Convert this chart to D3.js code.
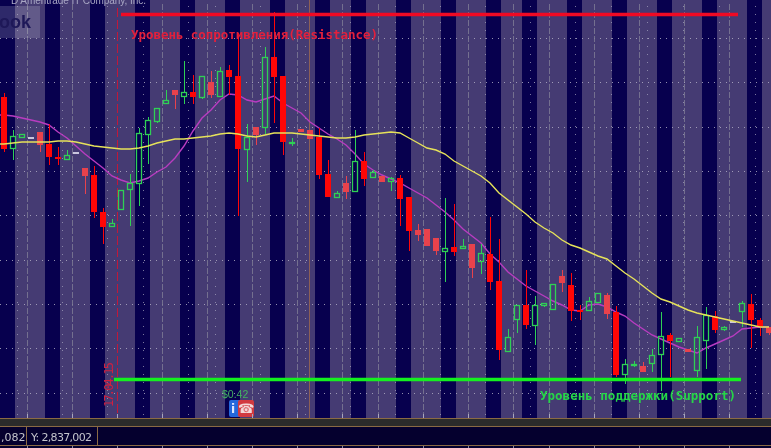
<!DOCTYPE html>
<html lang="en">
<head>
    <meta charset="UTF-8">
    <title>Support and resistance</title>
    <script src="https://d3js.org/d3.v7.min.js"></script>
    <style>
        html, body {margin: 0; padding: 0; background: #05002e; overflow: hidden;}
        svg {display: block; filter: blur(0.3px);}
    </style>
</head>
<body>
<script type="text/javascript">
    var width = 771;
    var height = 448;

    // candles (1 price unit = 1 screen pixel, the original has no visible price axis)
    var opens = [351,300,311,311,316,304,291,289,296,280,273,236,222,239,259,265,314,327,345,358,352,356,351,366,352,378,372,299,321,321,
        391,372,305,319,318,311,274,251,265,257,287,271,272,267,270,251,218,219,210,197,201,200,204,187,194,167,97,129,143,123,
        143,139,172,163,138,138,146,153,136,74,83,82,85,94,113,107,99,78,108,132,119,127,137,144,128,121];
    var highs = [355,318,314,311,316,324,301,298,296,280,282,240,229,258,274,320,331,340,358,358,387,373,372,377,381,383,415,324,321,401,
        436,372,310,319,318,320,288,257,272,318,296,278,272,271,273,251,224,219,210,250,244,209,204,204,231,209,119,143,178,152,
        145,164,178,175,143,151,155,155,142,89,87,86,99,136,115,110,99,122,141,137,122,127,147,154,130,121];
    var lows = [296,288,310,311,296,283,283,289,296,254,230,204,221,239,222,242,284,325,345,339,344,344,349,350,352,353,232,266,303,314,
        325,293,302,316,309,269,251,251,249,256,262,271,266,257,222,197,207,202,193,166,192,200,170,174,158,88,96,115,119,103,
        141,139,156,127,128,138,146,129,71,64,81,76,76,57,71,107,96,71,79,115,117,127,121,100,112,113];
    var closes = [299,312,314,311,303,291,290,293,296,272,236,221,225,258,265,315,328,340,348,353,356,351,372,353,377,371,299,311,313,391,
        371,306,306,316,309,273,251,255,256,287,269,276,266,270,249,217,213,202,197,200,196,202,180,195,166,98,111,143,123,143,
        145,164,165,137,137,147,155,134,73,84,84,76,93,112,107,110,96,111,133,118,121,127,145,128,121,115];
    // the paler red bodies in the original
    var softBars = [4,9,19,23,28,33,34,38,42,46,47,48,52,62,67,71,76,85];

    var maFast = [333,332,330,328,326,323,316,310,302,294,287,280,272,268,265,267,270,276,281,290,302,317,330,338,348,354,353,348,346,349,
        352,345,340,335,326,320,314,309,303,294,284,278,273,269,265,260,255,250,243,236,228,219,212,205,194,186,176,169,162,157,
        152,147,143,138,137,143,144,141,136,132,125,119,113,109,105,101,98,95,100,104,108,112,119,120,121,121];
    var maSlow = [304,305,306,306,306,306,307,307,306,304,302,301,300,299,299,300,302,305,307,309,309,310,311,312,314,315,314,312,311,313,
        315,315,315,314,313,312,311,310,310,311,313,314,315,316,315,310,305,300,298,294,287,282,277,272,265,255,248,241,234,226,
        220,215,208,203,200,196,192,189,182,175,169,162,155,149,146,142,138,135,133,131,129,127,125,123,121,121];

    // candle index where each dark band starts
    var bandStarts = [0,5,10,15,20,25,30,35,39,44,49,54,58,63,68,73,78,83];
    var dashedGrid = [2,7,17,22,27,32,37,41,46,51,56,60,65,70,75,80];
    var dottedGrid = [1,6,11,15,20,23,28,33,38,43,48,53,58,63,67,71,75,79,83];
    var priceGrid = [410,366,321,277,233,188,144,100,55];
    var bottomTicks = [2,7,12,17,22,27,32,37,41,46,51,56,60,65,70,75,80];

    var resistanceLevel = 433.5;
    var supportLevel = 68.5;

    var x = d3.scaleLinear().domain([0, 85]).range([4, 769]);
    var y = d3.scaleLinear().domain([0, 448]).range([448, 0]);
    var chartBottom = 418;

    var svg = d3.select('body').append('svg')
            .attr('width', width)
            .attr('height', height);

    // background
    svg.append('rect')
            .attr('width', width)
            .attr('height', chartBottom)
            .style('fill', '#453b73');
    svg.selectAll('.band')
            .data(bandStarts)
            .enter()
            .append('rect')
            .attr('class', 'band')
            .attr('x', function (d) {
                return x(d) - 4;
            })
            .attr('y', 0)
            .attr('width', 15)
            .attr('height', chartBottom)
            .style('fill', '#07004e');

    // grid
    svg.selectAll('.hGrid')
            .data(priceGrid)
            .enter()
            .append('line')
            .attr('class', 'hGrid')
            .attr('x1', 0)
            .attr('x2', width)
            .attr('y1', function (d) {
                return Math.round(y(d)) + 0.5;
            })
            .attr('y2', function (d) {
                return Math.round(y(d)) + 0.5;
            })
            .style('stroke', '#b5b3c8')
            .style('stroke-opacity', 0.8)
            .style('stroke-dasharray', '1,5');
    svg.selectAll('.dotGrid')
            .data(dottedGrid)
            .enter()
            .append('line')
            .attr('class', 'dotGrid')
            .attr('x1', function (d) {
                return x(d) + 4.5;
            })
            .attr('x2', function (d) {
                return x(d) + 4.5;
            })
            .attr('y1', 6)
            .attr('y2', chartBottom)
            .style('stroke', '#a8a6c0')
            .style('stroke-opacity', 0.7)
            .style('stroke-dasharray', '1,7');
    svg.selectAll('.dashGrid')
            .data(dashedGrid)
            .enter()
            .append('line')
            .attr('class', 'dashGrid')
            .attr('x1', function (d) {
                return x(d) + 5.5;
            })
            .attr('x2', function (d) {
                return x(d) + 5.5;
            })
            .attr('y1', 4)
            .attr('y2', chartBottom)
            .style('stroke', '#7c7a94')
            .style('stroke-opacity', 0.85)
            .style('stroke-dasharray', '6,2');

    // brown and red date markers
    svg.append('line')
            .attr('x1', 309.5).attr('x2', 309.5)
            .attr('y1', 0).attr('y2', chartBottom)
            .style('stroke', '#8c5f55');
    svg.append('line')
            .attr('x1', x(12) + 5.5).attr('x2', x(12) + 5.5)
            .attr('y1', 8).attr('y2', chartBottom)
            .style('stroke', '#c0183a')
            .style('stroke-dasharray', '9,3');

    // moving averages
    var maLine = d3.line()
            .x(function (d, i) {
                return x(i - 1);
            })
            .y(function (d) {
                return y(d);
            });
    svg.append('path')
            .attr('d', maLine([maFast[0]].concat(maFast)))
            .style('fill', 'none')
            .style('stroke', '#b83cc0')
            .style('stroke-width', 1.4);

    // candles
    var candles = opens.map(function (d, i) {
        return {i: i, open: d, high: highs[i], low: lows[i], close: closes[i]};
    });
    function candleColor(d) {
        if (d.open === d.close) return '#c9c6dd';
        if (d.close > d.open) return '#2fd055';
        return softBars.indexOf(d.i) >= 0 ? '#e8424c' : '#ff0606';
    }
    function px(v) {
        return Math.round(y(v));
    }
    var candle = svg.selectAll('.candle')
            .data(candles)
            .enter()
            .append('g')
            .attr('class', 'candle')
            .attr('transform', function (d) {
                return 'translate(' + x(d.i) + ',0)';
            });
    // upper and lower wick are separate so the hollow bodies stay empty
    candle.append('line')
            .attr('x1', 0.5).attr('x2', 0.5)
            .attr('y1', function (d) {
                return px(d.high);
            })
            .attr('y2', function (d) {
                return px(Math.max(d.open, d.close));
            })
            .style('stroke', candleColor);
    candle.append('line')
            .attr('x1', 0.5).attr('x2', 0.5)
            .attr('y1', function (d) {
                return px(Math.min(d.open, d.close));
            })
            .attr('y2', function (d) {
                return px(d.low);
            })
            .style('stroke', candleColor);
    candle.filter(function (d) {
        return d.close > d.open;
    }).append('rect')
            .attr('x', -2.5)
            .attr('width', 5)
            .attr('y', function (d) {
                return px(d.close) + 0.5;
            })
            .attr('height', function (d) {
                return Math.max(px(d.open) - px(d.close), 1);
            })
            .style('fill', 'none')
            .style('stroke-width', 1.3)
            .style('stroke', candleColor);
    candle.filter(function (d) {
        return d.close <= d.open;
    }).append('rect')
            .attr('x', -3)
            .attr('width', 6)
            .attr('y', function (d) {
                return px(d.open);
            })
            .attr('height', function (d) {
                return Math.max(px(d.close) - px(d.open), 2);
            })
            .style('fill', candleColor);

    svg.append('path')
            .attr('d', maLine([maSlow[0]].concat(maSlow)))
            .style('fill', 'none')
            .style('stroke', '#e6e25a')
            .style('stroke-width', 1.4);

    // support / resistance
    svg.append('line')
            .attr('x1', 121).attr('x2', 738)
            .attr('y1', y(resistanceLevel)).attr('y2', y(resistanceLevel))
            .style('stroke', '#f00a24')
            .style('stroke-width', 3.5);
    svg.append('line')
            .attr('x1', 114).attr('x2', 741)
            .attr('y1', y(supportLevel)).attr('y2', y(supportLevel))
            .style('stroke', '#14f020')
            .style('stroke-width', 3.5);
    svg.append('text')
            .attr('x', 131).attr('y', 39)
            .attr('textLength', 247)
            .style('font', 'bold 12.5px "DejaVu Sans Mono"')
            .style('fill', '#e2203c')
            .text('Уровень сопротивления(Resistance)');
    svg.append('text')
            .attr('x', 540).attr('y', 400)
            .attr('textLength', 196)
            .style('font', 'bold 12.5px "DejaVu Sans Mono"')
            .style('fill', '#26d648')
            .text('Уровень поддержки(Support)');
    svg.append('text')
            .attr('transform', 'translate(113,407) rotate(-90)')
            .attr('textLength', 45)
            .style('font', '12px "DejaVu Sans Mono"')
            .style('fill', '#cf2040')
            .text('17.04.15');

    // watermark and top line
    svg.append('text')
            .attr('x', 11).attr('y', 4)
            .attr('textLength', 135)
            .style('font', '10px "Liberation Sans"')
            .style('fill', '#a9a7c4')
            .text('D Ameritrade IT Company, Inc.');
    svg.append('rect')
            .attr('x', 0).attr('y', 6)
            .attr('width', 40).attr('height', 32)
            .style('fill', 'rgba(255,255,255,0.16)');
    svg.append('text')
            .attr('x', -1).attr('y', 28)
            .style('font', 'bold 18px "Liberation Sans"')
            .style('fill', '#1e1858')
            .text('ook');

    // dividend marker
    svg.append('text')
            .attr('x', 222).attr('y', 398)
            .style('font', '10.5px "Liberation Sans"')
            .style('fill', '#42b060')
            .text('$0.42');
    svg.append('rect')
            .attr('x', 229).attr('y', 400)
            .attr('width', 14).attr('height', 17).attr('rx', 2)
            .style('fill', '#2468dc');
    svg.append('text')
            .attr('x', 231).attr('y', 413)
            .style('font', 'bold 12px "DejaVu Sans"')
            .style('fill', '#dfe8ff')
            .text('i');
    svg.append('rect')
            .attr('x', 238).attr('y', 400)
            .attr('width', 16).attr('height', 17).attr('rx', 2)
            .style('fill', '#d23a40');
    svg.append('text')
            .attr('x', 246).attr('y', 413)
            .attr('text-anchor', 'middle')
            .style('font', '13px "DejaVu Sans"')
            .style('fill', '#f3d8d8')
            .text('☎');

    // status bar at the bottom
    svg.selectAll('.bottomTick')
            .data(bottomTicks)
            .enter()
            .append('line')
            .attr('class', 'bottomTick')
            .attr('x1', function (d) {
                return x(d) + 5.5;
            })
            .attr('x2', function (d) {
                return x(d) + 5.5;
            })
            .attr('y1', 414)
            .attr('y2', chartBottom)
            .style('stroke', '#a9a7bd');
    svg.append('rect')
            .attr('x', 0).attr('y', chartBottom)
            .attr('width', width).attr('height', 30)
            .style('fill', '#05002e');
    svg.append('rect')
            .attr('x', 0).attr('y', 419)
            .attr('width', width).attr('height', 7)
            .style('fill', '#2b2b2b');
    [418.5, 426.5, 445.5].forEach(function (d) {
        svg.append('line')
                .attr('x1', 0).attr('x2', width)
                .attr('y1', d).attr('y2', d)
                .style('stroke', '#8a6a44');
    });
    [26.5, 97.5].forEach(function (d) {
        svg.append('line')
                .attr('x1', d).attr('x2', d)
                .attr('y1', 427).attr('y2', 445)
                .style('stroke', '#8a6a44');
    });
    svg.selectAll('.statusTick')
            .data(bottomTicks)
            .enter()
            .append('line')
            .attr('class', 'statusTick')
            .attr('x1', function (d) {
                return x(d) + 5.5;
            })
            .attr('x2', function (d) {
                return x(d) + 5.5;
            })
            .attr('y1', 446)
            .attr('y2', 448)
            .style('stroke', '#8a8aa0');
    svg.append('text')
            .attr('x', 1).attr('y', 441)
            .style('font', '11px "DejaVu Sans"')
            .style('fill', '#c4c4cc')
            .text(',082');
    svg.append('text')
            .attr('x', 31).attr('y', 441)
            .attr('textLength', 61)
            .style('font', '11px "DejaVu Sans"')
            .style('fill', '#c4c4cc')
            .text('Y: 2,837,002');
</script>
</body>
</html>
